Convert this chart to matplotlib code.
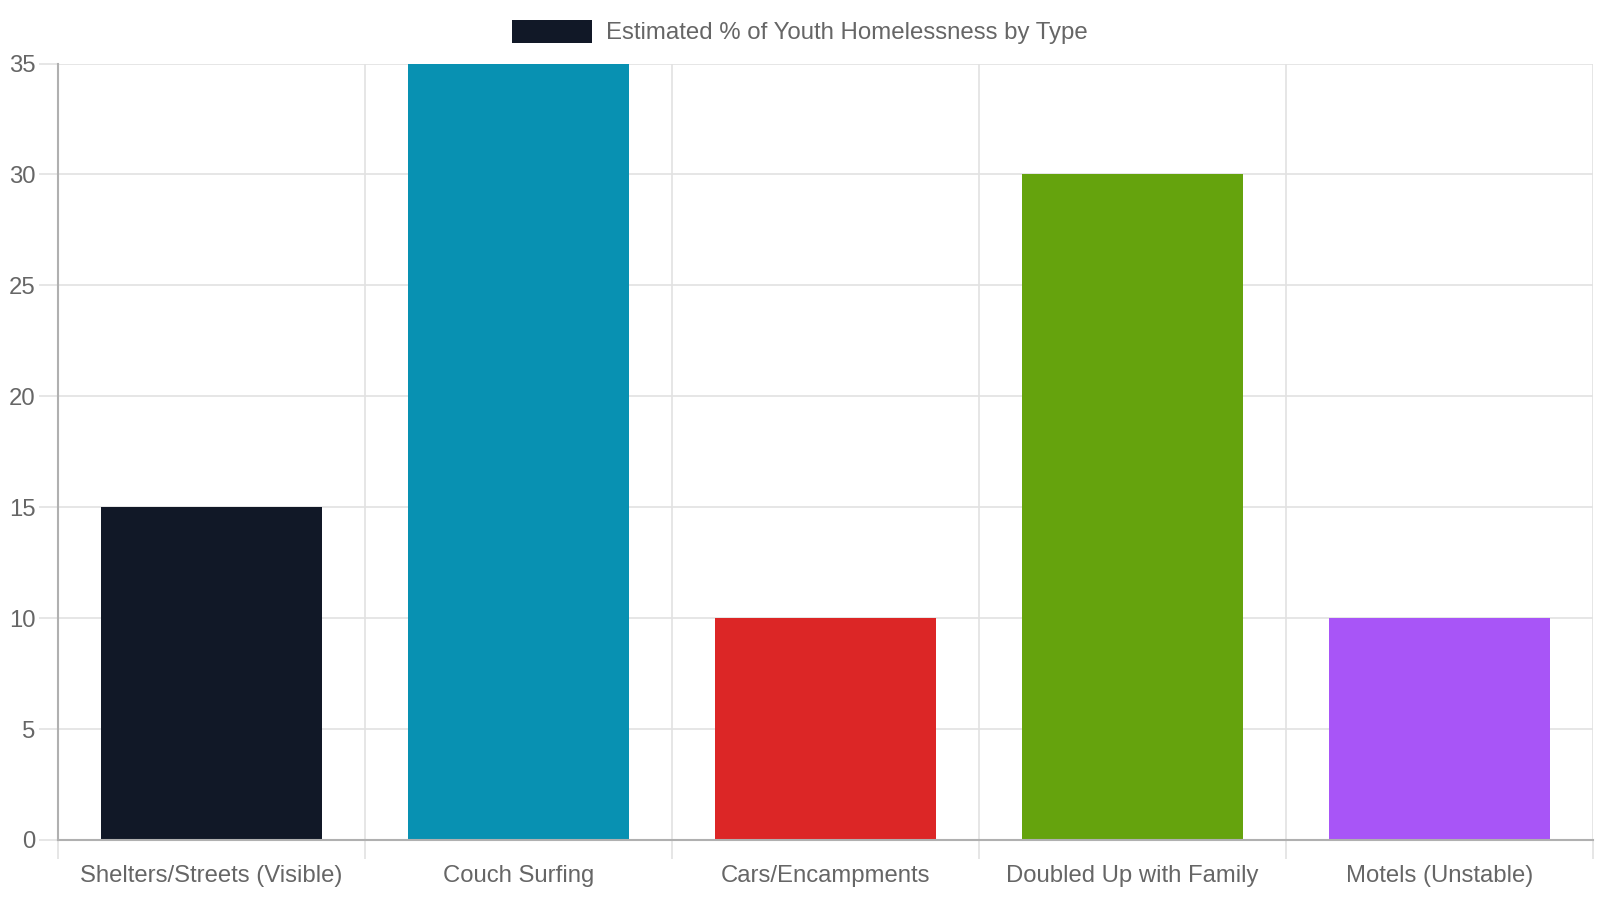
import matplotlib.pyplot as plt
from matplotlib.patches import Patch

categories = [
    "Shelters/Streets (Visible)",
    "Couch Surfing",
    "Cars/Encampments",
    "Doubled Up with Family",
    "Motels (Unstable)",
]
values = [15, 35, 10, 30, 10]
colors = ["#111827", "#0891b2", "#dc2626", "#65a30d", "#a855f7"]
series_label = "Estimated % of Youth Homelessness by Type"
y_ticks = [0, 5, 10, 15, 20, 25, 30, 35]


def main():
    plt.rcParams["font.family"] = ["Liberation Sans", "DejaVu Sans"]
    text_color = "#666666"
    grid_color = "#e2e2e2"
    axis_color = "#b0b0b0"

    fig = plt.figure(figsize=(16, 9), dpi=100)
    ax = fig.add_axes([58 / 1600, 60 / 900, (1593 - 58) / 1600, (840 - 63.5) / 900])

    xs = list(range(len(categories)))
    ax.bar(xs, values, width=0.72, color=colors, zorder=3)

    ax.set_xlim(-0.5, len(categories) - 0.5)
    ax.set_ylim(0, 35)

    # vertical grid at category boundaries, drawn as minor ticks
    ax.set_xticks(xs)
    ax.set_xticklabels(categories)
    ax.set_xticks([x - 0.5 for x in range(len(categories) + 1)], minor=True)
    ax.tick_params(axis="x", which="major", length=0, pad=18,
                   labelsize=17.2, labelcolor=text_color)
    ax.tick_params(axis="x", which="minor", length=14, width=1.2,
                   color=grid_color)
    ax.grid(axis="x", which="minor", color=grid_color, linewidth=1.2, zorder=0)

    ax.set_yticks(y_ticks)
    ax.tick_params(axis="y", length=14, width=1.2, color=grid_color, pad=2,
                   labelsize=17.2, labelcolor=text_color)
    ax.grid(axis="y", color=grid_color, linewidth=1.2, zorder=0)

    ax.xaxis.get_minor_ticks()[0].tick1line.set_color(axis_color)
    ax.yaxis.get_major_ticks()[0].tick1line.set_color(axis_color)

    for side in ("top", "right"):
        ax.spines[side].set_visible(False)
    for side in ("left", "bottom"):
        ax.spines[side].set_color(axis_color)
        ax.spines[side].set_linewidth(1.5)
        ax.spines[side].set_zorder(4)

    handle = Patch(facecolor=colors[0], edgecolor="none")
    fig.legend([handle], [series_label], loc="center", bbox_to_anchor=(0.5, 1 - 32 / 900),
               frameon=False, fontsize=17.3, labelcolor=text_color,
               handlelength=3.3, handleheight=1.1, handletextpad=0.6)

    fig.savefig("out.png", dpi=100)


if __name__ == "__main__":
    main()
